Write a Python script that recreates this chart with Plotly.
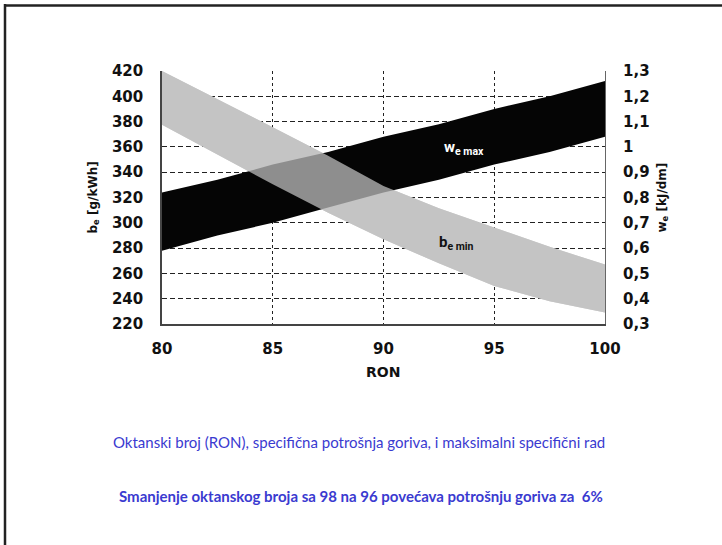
import plotly.graph_objects as go

# RON values along the x axis
ron = [80, 82.5, 85, 87.5, 90, 92.5, 95, 97.5, 100]

# w_e max band (right axis, kJ/dm)
we_top = [0.82, 0.87, 0.93, 0.98, 1.04, 1.09, 1.15, 1.20, 1.26]
we_bot = [0.59, 0.65, 0.70, 0.76, 0.82, 0.87, 0.93, 0.98, 1.04]

# b_e min band (left axis, g/kWh)
be_top = [420, 398, 375.5, 353, 329, 311.5, 296, 281, 267]
be_bot = [377.5, 354, 330.5, 308, 287, 268, 250, 238, 229]

left_ticks = [220, 240, 260, 280, 300, 320, 340, 360, 380, 400, 420]
right_ticks = [0.3, 0.4, 0.5, 0.6, 0.7, 0.8, 0.9, 1.0, 1.1, 1.2, 1.3]
right_text = ["0,3", "0,4", "0,5", "0,6", "0,7", "0,8", "0,9", "1", "1,1", "1,2", "1,3"]
x_ticks = [80, 85, 90, 95, 100]

caption1 = "Oktanski broj (RON), specifična potrošnja goriva, i maksimalni specifični rad"
caption2 = "Smanjenje oktanskog broja sa 98 na 96 povećava potrošnju goriva za  6%"

TICKFONT = dict(family="DejaVu Sans", size=15, color="#111", weight="bold")
BLUE = "#3a3ad0"

# plot area in pixels: x 162..605, y 71..324
L, R, T, B = 162, 605, 71, 324
W, H = 722, 545


def px(x):
    return (x - L) / (R - L)


def py(y):
    return (B - y) / (B - T)


fig = go.Figure()

# opaque gray band (hides grid)
fig.add_trace(go.Scatter(
    x=ron + ron[::-1], y=be_top + be_bot[::-1],
    fill="toself", fillcolor="#c4c4c4", mode="lines",
    line=dict(width=0), yaxis="y", hoverinfo="skip", showlegend=False,
))
# black band on the right axis
fig.add_trace(go.Scatter(
    x=ron + ron[::-1], y=we_top + we_bot[::-1],
    fill="toself", fillcolor="#050505", mode="lines",
    line=dict(width=0), yaxis="y2", hoverinfo="skip", showlegend=False,
))
# translucent gray band again on top, gives the overlap tone
fig.add_trace(go.Scatter(
    x=ron + ron[::-1], y=be_top + be_bot[::-1],
    fill="toself", fillcolor="rgba(196,196,196,0.72)", mode="lines",
    line=dict(width=0), yaxis="y3", hoverinfo="skip", showlegend=False,
))

fig.update_layout(
    width=W, height=H,
    margin=dict(l=L, r=W - R, t=T, b=H - B),
    paper_bgcolor="white", plot_bgcolor="white",
    xaxis=dict(
        range=[80, 100], tickvals=x_ticks, showgrid=True,
        gridcolor="#222", griddash="3px,3px", gridwidth=1,
        showline=True, linecolor="#444", linewidth=1.5,
        zeroline=False, ticks="", ticklabelstandoff=10, tickfont=TICKFONT,
    ),
    yaxis=dict(
        range=[220, 420], tickvals=left_ticks, showgrid=True,
        gridcolor="#222", griddash="5px,3px", gridwidth=1,
        showline=True, linecolor="#444", linewidth=1.5,
        zeroline=False, ticks="", ticklabelstandoff=14, tickfont=TICKFONT,
    ),
    yaxis2=dict(
        range=[0.3, 1.3], tickvals=right_ticks, ticktext=right_text,
        overlaying="y", side="right", showgrid=False,
        showline=True, linecolor="#666", linewidth=1.2,
        zeroline=False, ticks="", ticklabelstandoff=14, tickfont=TICKFONT,
    ),
    yaxis3=dict(range=[220, 420], overlaying="y", visible=False),
    showlegend=False,
)

ann = [
    dict(x=px(383), y=py(372), text="RON",
         font=dict(family="DejaVu Sans", size=14, color="#111", weight="bold")),
    dict(x=px(93), y=0.5, text="b<sub>e</sub> [g/kWh]", textangle=-90,
         font=dict(family="DejaVu Sans", size=12, color="#111", weight="bold")),
    dict(x=px(662), y=0.5, text="w<sub>e</sub> [kJ/dm]", textangle=-90,
         font=dict(family="DejaVu Sans", size=12, color="#111", weight="bold")),
    dict(x=px(464), y=py(148), text="w<sub>e max</sub>",
         font=dict(family="Roboto", size=15, color="white", weight="bold")),
    dict(x=px(456), y=py(243), text="b<sub>e min</sub>",
         font=dict(family="Roboto", size=15, color="#111", weight="bold")),
    dict(x=px(358.5), y=py(442), text=caption1,
         font=dict(family="Lato", size=15, color=BLUE)),
    dict(x=px(361), y=py(496), text=caption2,
         font=dict(family="Lato", size=15, color=BLUE, weight="bold")),
]
for a in ann:
    fig.add_annotation(xref="paper", yref="paper", showarrow=False,
                       xanchor="center", yanchor="middle", **a)

# slide frame: left and top edges only
fig.add_shape(type="line", xref="paper", yref="paper",
              x0=px(5), x1=px(5), y0=py(4), y1=py(H + 5),
              line=dict(color="#222", width=2.5))
fig.add_shape(type="line", xref="paper", yref="paper",
              x0=px(4), x1=px(W + 5), y0=py(5.5), y1=py(5.5),
              line=dict(color="#222", width=2.5))

# drop the default body margin so the figure sits at the window origin
fig.write_html("out.html",
               config={"displayModeBar": False},
               post_script="document.body.style.margin='0';"
                           "document.body.style.overflow='hidden';")
